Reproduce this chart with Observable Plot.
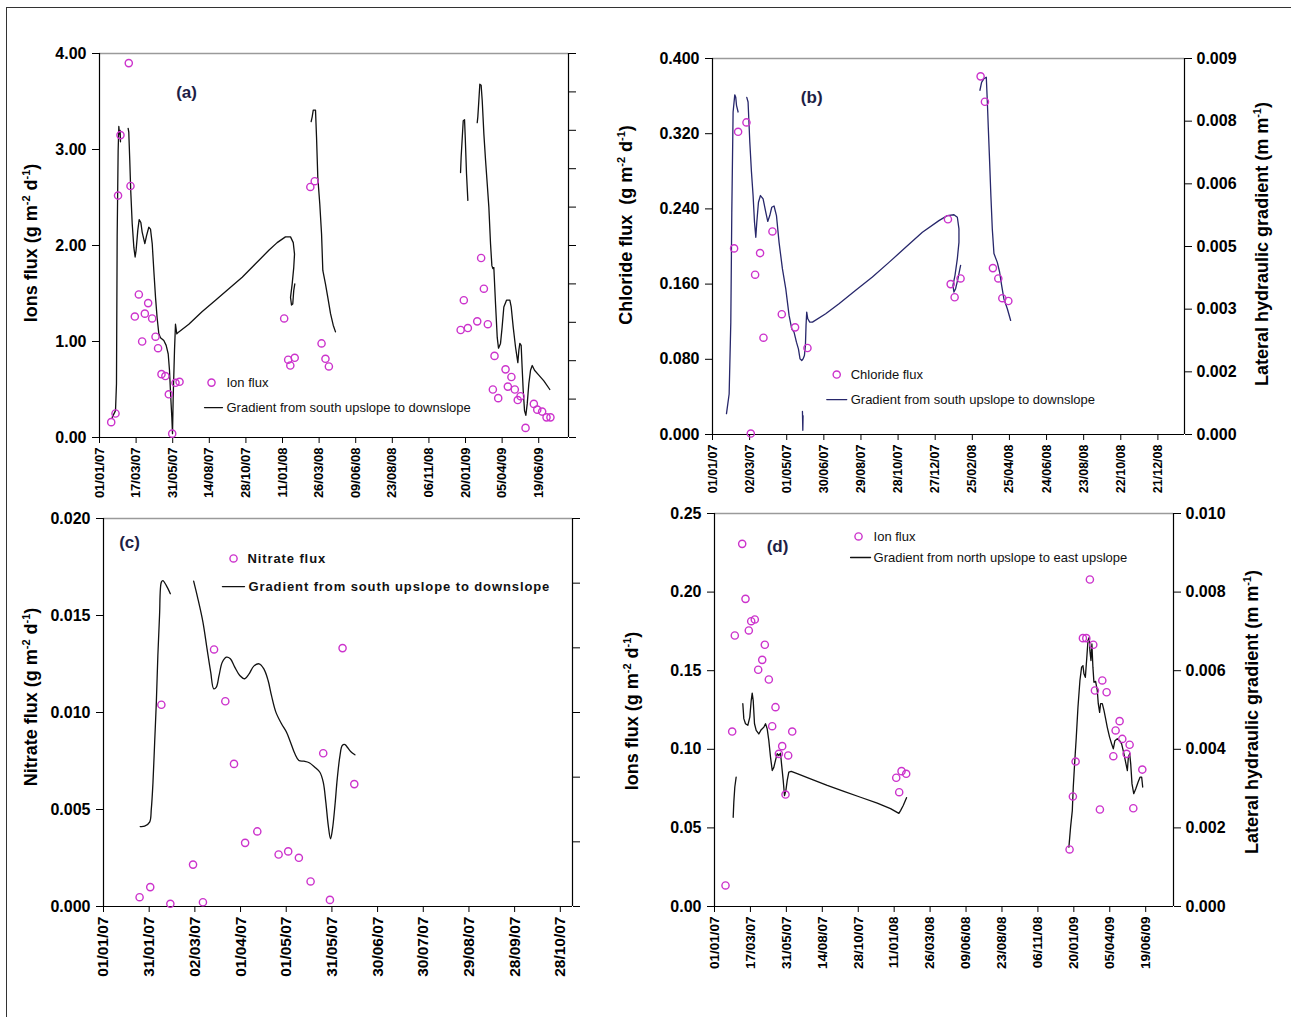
<!DOCTYPE html>
<html>
<head>
<meta charset="utf-8">
<script src="https://cdn.jsdelivr.net/npm/d3@7"></script>
<script src="https://cdn.jsdelivr.net/npm/@observablehq/plot@0.6"></script>
<style>
  html, body { margin: 0; padding: 0; background: #fff; overflow: hidden; }
  #fig { position: relative; width: 1291px; height: 1017px; background: #fff; font-family: "Liberation Sans", Arial, sans-serif; }
  #border { position: absolute; left: 6px; top: 7px; width: 1300px; height: 1020px; border-top: 1.5px solid #333; border-left: 1.5px solid #333; }
  .panel { position: absolute; }
  .ytitle { position: absolute; white-space: nowrap; font-weight: bold; font-size: 18px; color: #000;
            transform: translate(-50%, -50%) rotate(-90deg); line-height: 1; }
  .ytitle sup { font-size: 11px; vertical-align: 0.6em; line-height: 0; }
</style>
</head>
<body>
<div id="fig"><div id="border"></div></div>
<script>
// ---------------- DATA (x = days since 01/01/07) ----------------
// Panel (a): ion flux (g m-2 d-1) and gradient south upslope -> downslope (drawn on the unlabelled right axis)
const fluxA = [[24,0.16],[32.8,0.25],[38,2.52],[43,3.15],[60,3.90],[63.5,2.62],[72.4,1.26],[80.6,1.49],[87.4,1.00],[92.9,1.29],[99.7,1.40],[107.9,1.24],[114.8,1.05],[120,0.93],[127,0.66],[135,0.64],[142,0.45],[149,0.04],[155.7,0.57],[164,0.58],[378.4,1.24],[386.6,0.81],[391,0.75],[400,0.83],[432,2.61],[441,2.67],[455,0.98],[463,0.82],[470,0.74],[740,1.12],[746.5,1.43],[754.8,1.14],[774,1.21],[782,1.87],[787.6,1.55],[795.7,1.18],[806,0.50],[809.4,0.85],[817,0.41],[832,0.71],[836.7,0.53],[844,0.63],[851,0.50],[857,0.39],[862.7,0.43],[873,0.10],[890,0.35],[897,0.29],[907,0.27],[916,0.21],[924,0.21]];
const gradA = [
  [[26,0.21],[32.8,0.28],[34.8,0.56],[36.2,2.09],[38.2,2.99],[39.6,3.24],[41,3.16],[42.3,3.20],[43,3.08]],
  [[58.7,3.22],[60,3.18],[62,2.89],[64,2.57],[67,2.23],[70.4,1.98],[73,1.88],[75,1.95],[78.5,2.16],[81.3,2.27],[84.7,2.24],[87.4,2.14],[92.9,2.02],[96.3,2.10],[101,2.19],[104.5,2.17],[108,2.02],[111.3,1.74],[114.8,1.46],[118,1.25],[121.6,1.08],[125,1.04],[131.8,1.01],[136.6,0.96],[140.8,0.87],[143.4,0.70],[146,0.42],[148.2,0.21],[149.6,0.04],[151,0.42],[153.7,0.91],[155.7,1.18],[158.4,1.08],[162.5,1.10],[183,1.18],[210,1.31],[237.7,1.43],[265,1.55],[292.4,1.67],[319.7,1.81],[347,1.95],[364,2.03],[381,2.09],[391.4,2.09],[397,2.03],[399.6,1.91],[398,1.77],[394.8,1.60],[391.4,1.46],[393.4,1.38],[396,1.39],[398,1.53],[400.2,1.60]],
  [[433.7,3.29],[435.8,3.34],[438,3.41],[442.6,3.41],[444.7,3.13],[447.3,2.71],[451.4,2.43],[455,2.12],[457.6,1.74],[463,1.60],[467.8,1.46],[473.4,1.29],[478.9,1.17],[483.6,1.10]],
  [[739.8,2.76],[741,2.92],[745.3,3.30],[748,3.31],[749.4,3.13],[752,2.75],[754.8,2.47]],
  [[774,3.28],[775.2,3.34],[777.3,3.51],[779.3,3.68],[782,3.67],[784.2,3.51],[787.6,3.16],[791,2.89],[794.5,2.64],[797.8,2.40],[801.2,2.02],[804,1.79],[806,1.76],[808,1.77],[811.5,1.39],[815,1.04],[817.6,0.93],[821.7,0.98],[825,1.15],[828.5,1.36],[834,1.43],[840.8,1.43],[843.6,1.36],[847.7,1.15],[852.5,0.94],[857.2,0.78],[859.3,0.91],[861.3,0.98],[864,0.96],[866,0.73],[868.2,0.49],[870.9,0.28],[873.6,0.23],[876.4,0.35],[879.7,0.56],[883.2,0.70],[886.7,0.75],[891.4,0.70],[900.2,0.65],[910.5,0.59],[922.7,0.50]]
];

// Panel (b): chloride flux (g m-2 d-1) and lateral hydraulic gradient (m m-1)
const fluxB = [[34.9,0.198],[41.4,0.322],[54.9,0.332],[61.9,0.001],[68.9,0.170],[76.9,0.193],[82.4,0.103],[96.9,0.216],[112,0.128],[133.5,0.114],[153.5,0.092],[380.6,0.229],[385,0.160],[391.4,0.146],[401,0.166],[433.4,0.381],[440.4,0.354],[453.3,0.177],[462,0.166],[468.5,0.145],[478.2,0.142]];
const gradB = [
  [[22.6,0.00050],[26.9,0.00097],[29.6,0.00269],[31.2,0.00532],[33.3,0.00772],[36,0.00813],[37.6,0.00807],[38.8,0.00788],[41.4,0.00772]],
  [[55.4,0.00807],[57.5,0.00796],[60.3,0.00700],[63,0.00628],[65.6,0.00572],[67.9,0.00508],[70,0.00472],[71.6,0.00508],[74.3,0.00556],[77.5,0.00572],[81.8,0.00564],[86.1,0.00532],[89.3,0.00510],[92.6,0.00524],[95.8,0.00544],[99.5,0.00547],[103.4,0.00524],[107.6,0.00460],[113,0.00397],[118.4,0.00349],[123.8,0.00285],[128.1,0.00253],[131.8,0.00245],[135.7,0.00221],[138.9,0.00205],[141.5,0.00181],[144.3,0.00177],[146.4,0.00181],[148.6,0.00189],[150.2,0.00213],[151.2,0.00261],[152.3,0.00293],[154,0.00277],[157.2,0.00269],[161.6,0.00269],[183,0.00289],[204.5,0.00313],[231.5,0.00345],[258.5,0.00377],[285.3,0.00412],[312.3,0.00448],[339.3,0.00484],[366,0.00512],[379.6,0.00524],[390.3,0.00526],[395.8,0.00520],[398.4,0.00492],[398.4,0.00460],[395.8,0.00421],[392,0.00381],[388.7,0.00357],[390.3,0.00341],[393,0.00349],[396.8,0.00373],[400,0.00397],[401.1,0.00405]],
  [[145.4,0.00055],[146,0.00010],[146.4,0.00045]],
  [[432.3,0.00824],[435,0.00843],[438.8,0.00852],[442.6,0.00855],[444.3,0.00796],[445.9,0.00732],[448,0.00652],[450,0.00572],[452.3,0.00492],[455,0.00433],[460.4,0.00412],[464.1,0.00389],[467.4,0.00357],[471,0.00325],[476.6,0.00301],[482,0.00273]]
];

// Panel (c): nitrate flux (g m-2 d-1) and gradient (unlabelled right axis)
const fluxC = [[23.7,0.00048],[30.7,0.00100],[38,0.01040],[43.9,0.00014],[58.8,0.00216],[65.3,0.00022],[72.6,0.01325],[80,0.01058],[85.7,0.00735],[93,0.00328],[101,0.00387],[115,0.00268],[121.3,0.00284],[128.3,0.00251],[136,0.00129],[144.3,0.00790],[148.7,0.00034],[157,0.01332],[164.7,0.00631]];
const gradC = [
  [[24.1,0.00412],[27,0.00414],[30.3,0.00435],[31.4,0.00503],[32.5,0.00641],[33.6,0.00847],[34.7,0.01053],[35.7,0.01294],[36.8,0.01500],[38,0.01672],[39,0.01680],[41.2,0.01655],[43.9,0.01612]],
  [[59.2,0.01677],[62,0.01586],[65.3,0.01466],[68,0.01328],[70.4,0.01208],[72.4,0.01122],[74.1,0.01131],[75.9,0.01191],[78,0.01259],[80.7,0.01285],[83.3,0.01277],[86.2,0.01234],[89.5,0.01191],[92.8,0.01174],[95.6,0.01199],[98.7,0.01239],[102.2,0.01251],[105.3,0.01225],[108.1,0.01165],[110.3,0.01088],[113.2,0.01002],[116.9,0.00942],[120.2,0.00898],[122.8,0.00847],[125.7,0.00787],[128.3,0.00753],[131.6,0.00749],[135.1,0.00741],[138.8,0.00718],[142.1,0.00692],[144.3,0.00641],[146,0.00538],[147.6,0.00418],[149.1,0.00349],[150.4,0.00401],[152,0.00521],[153.5,0.00658],[155.3,0.00778],[156.8,0.00830],[158.6,0.00835],[160.1,0.00821],[162.3,0.00799],[165.1,0.00782]]
];

// Panel (d): ion flux (g m-2 d-1) and lateral hydraulic gradient north -> east upslope (m m-1)
const fluxD = [[23,0.0134],[36.9,0.1113],[42.4,0.1724],[57.8,0.2307],[64.7,0.1957],[71.6,0.1756],[76.6,0.1815],[84.1,0.1826],[91.2,0.1506],[99.6,0.1569],[105,0.1665],[113.4,0.1444],[120.4,0.1147],[127.3,0.1268],[134.3,0.0971],[141.3,0.1020],[148.2,0.0712],[153.8,0.0961],[162.2,0.1113],[379.3,0.0819],[385.5,0.0727],[390.4,0.0861],[400.1,0.0844],[741.1,0.0363],[748,0.0700],[753.7,0.0922],[768.9,0.1707],[776,0.1707],[783.5,0.2080],[790.6,0.1665],[794,0.1374],[804.4,0.0617],[809.4,0.1438],[818.4,0.1363],[832.4,0.0956],[837.2,0.1120],[845.5,0.1179],[851.1,0.1066],[860.1,0.0971],[866.4,0.1029],[874.1,0.0625],[892.9,0.0871]];
const gradD = [
  [[39,0.00227],[40.3,0.00265],[42.4,0.00304],[45.2,0.00329]],
  [[59.1,0.00516],[61.2,0.00478],[64.7,0.00465],[69.5,0.00461],[73.7,0.00482],[76.6,0.00524],[78.7,0.00543],[80.8,0.00524],[83.5,0.00465],[87,0.00448],[92.5,0.00439],[97.5,0.00450],[102.9,0.00456],[106.5,0.00465],[110,0.00452],[113.4,0.00422],[116.9,0.00380],[120.5,0.00346],[123.8,0.00354],[127.3,0.00372],[130.9,0.00389],[134.2,0.00384],[137.8,0.00390],[139.9,0.00363],[143.4,0.00321],[146.1,0.00282],[148.9,0.00295],[151.8,0.00321],[155.1,0.00342],[160.1,0.00344],[172.6,0.00338],[200.4,0.00325],[235.3,0.00308],[270,0.00293],[304.8,0.00278],[339.7,0.00263],[367.4,0.00249],[384.8,0.00237],[388.3,0.00244],[393.9,0.00257],[400.8,0.00277]],
  [[739.7,0.00151],[743.2,0.00202],[746.8,0.00244],[748.8,0.00304],[751.6,0.00363],[755.1,0.00431],[758.6,0.00507],[762.7,0.00575],[766.2,0.00609],[769,0.00613],[771.1,0.00592],[774,0.00583],[776.6,0.00626],[779.5,0.00677],[782.3,0.00685],[783.5,0.00651],[785.7,0.00626],[787.7,0.00668],[789.8,0.00609],[791.9,0.00571],[795.4,0.00573],[798.9,0.00550],[801,0.00516],[803.8,0.00494],[805.8,0.00516],[809.4,0.00516],[812.9,0.00499],[816.3,0.00478],[819.8,0.00456],[824.6,0.00431],[828.8,0.00414],[832.4,0.00401],[835.7,0.00422],[840.7,0.00427],[845.5,0.00422],[849.7,0.00414],[854.5,0.00389],[858.8,0.00363],[861.7,0.00346],[863.8,0.00380],[866.5,0.00389],[868.7,0.00363],[871.4,0.00312],[875,0.00287],[879.1,0.00299],[884,0.00316],[888.1,0.00329],[891.6,0.00329],[893.7,0.00304]]
];

// Tick labels
const dateTicks75 = ["01/01/07","17/03/07","31/05/07","14/08/07","28/10/07","11/01/08","26/03/08","09/06/08","23/08/08","06/11/08","20/01/09","05/04/09","19/06/09"];
const dateTicks60 = ["01/01/07","02/03/07","01/05/07","30/06/07","29/08/07","28/10/07","27/12/07","25/02/08","25/04/08","24/06/08","23/08/08","22/10/08","21/12/08"];
const dateTicks30 = ["01/01/07","31/01/07","02/03/07","01/04/07","01/05/07","31/05/07","30/06/07","30/07/07","29/08/07","28/09/07","28/10/07"];
const leftTicksA = [0, 1, 2, 3, 4];
const leftTicksB = [0, 0.08, 0.16, 0.24, 0.32, 0.40];
const leftTicksC = [0, 0.005, 0.010, 0.015, 0.020];
const leftTicksD = [0, 0.05, 0.10, 0.15, 0.20, 0.25];
const rightTicksA = [0, 0.4, 0.8, 1.2, 1.6, 2.0, 2.4, 2.8, 3.2, 3.6, 4.0];
const rightTicksC = [0, 0.02/6, 0.04/6, 0.01, 0.08/6, 0.10/6, 0.02];
const rightTicksB = [0, 0.0015, 0.003, 0.0045, 0.006, 0.0075, 0.009];
const rightLabelsB = ["0.000","0.002","0.003","0.005","0.006","0.008","0.009"];
const rightTicksD = [0, 0.002, 0.004, 0.006, 0.008, 0.010];
const rightLabelsD = ["0.000","0.002","0.004","0.006","0.008","0.010"];

const legendTextA = ["Ion flux", "Gradient from south upslope to downslope"];
const legendTextB = ["Chloride flux", "Gradient from south upslope to downslope"];
const legendTextC = ["Nitrate flux", "Gradient from south upslope to downslope"];
const legendTextD = ["Ion flux", "Gradient from north upslope to east upslope"];

// ---------------- HELPERS ----------------
const BASE = Date.UTC(2007, 0, 1);
const dayDate = d => new Date(BASE + d * 86400000);
const parseTick = d3.utcParse("%d/%m/%y");
const fmtTick = d3.utcFormat("%d/%m/%y");
const MAGENTA = "#cc33cc";
const FONT = "'Liberation Sans', Arial, Helvetica, sans-serif";

function panel(o) {
  const k = o.yMax / o.rightMax; // right-axis units -> left-axis units
  const rightMap = new Map(o.rightTicks.map((v, i) => [v * k, o.rightLabels ? o.rightLabels[i] : ""]));
  const marks = [
    Plot.ruleY([o.yMax], {stroke: "#9a9a9a", strokeWidth: 1.3}),
    Plot.ruleY([0], {stroke: "#000", strokeWidth: 1.2}),
    Plot.ruleX([dayDate(0)], {stroke: "#000", strokeWidth: 1.2}),
    Plot.ruleX([dayDate(o.xEnd)], {stroke: "#000", strokeWidth: 1.2}),
    Plot.axisY({anchor: "left", ticks: o.leftTicks, tickFormat: d3.format(o.leftFmt), tickSize: 7, tickPadding: 6,
      fontSize: 16, fontWeight: "bold", label: null}),
    Plot.axisY({anchor: "right", ticks: o.rightTicks.map(v => v * k), tickFormat: v => rightMap.get(v) ?? "",
      tickSize: 7, tickPadding: 5, fontSize: 16, fontWeight: "bold", textAnchor: "start", label: null}),
    Plot.axisX({ticks: o.dateTicks.map(parseTick), tickFormat: fmtTick, tickRotate: -90, tickSize: 6, tickPadding: 4,
      fontSize: o.dateSize, fontWeight: o.dateWeight, label: null})
  ];
  for (const seg of o.grad) {
    marks.push(Plot.line(seg, {x: d => dayDate(d[0]), y: d => d[1] * k, stroke: o.lineColor, strokeWidth: 1.3, curve: o.curve || "linear"}));
  }
  marks.push(Plot.dot(o.flux, {x: d => dayDate(d[0]), y: d => d[1], r: 3.6, stroke: MAGENTA, strokeWidth: 1.4, fill: "none"}));
  // legend
  const L = o.legend;
  marks.push(Plot.dot([L.dot], {x: d => dayDate(d[0]), y: d => d[1] * o.yMax, r: 3.6, stroke: MAGENTA, strokeWidth: 1.4, fill: "none"}));
  marks.push(Plot.line(L.line, {x: d => dayDate(d[0]), y: d => d[1] * o.yMax, stroke: o.lineColor, strokeWidth: 1.3}));
  marks.push(Plot.text([[L.text1, o.legendText[0]], [L.text2, o.legendText[1]]], {
    x: d => dayDate(d[0][0]), y: d => d[0][1] * o.yMax, text: d => d[1], textAnchor: "start",
    fontSize: o.legendSize, fontWeight: o.legendWeight, fill: "#111", style: o.legendSpacing}));
  marks.push(Plot.text([o.tag], {x: d => dayDate(L.tag[0]), y: d => L.tag[1] * o.yMax, text: d => d,
    fontSize: 17, fontWeight: "bold", fill: "#1e1e46"}));

  const svg = Plot.plot({
    width: o.width, height: o.height,
    marginLeft: o.mL, marginRight: o.mR, marginTop: o.mT, marginBottom: o.mB,
    x: {type: "utc", domain: [dayDate(0), dayDate(o.xEnd)]},
    y: {domain: [0, o.yMax]},
    style: {fontFamily: FONT, background: "transparent", color: "#000", overflow: "visible"},
    marks
  });
  if (o.legendLetterSpacing) {
    svg.querySelectorAll("text").forEach(t => {
      if (o.legendText.includes(t.textContent)) t.setAttribute("letter-spacing", o.legendLetterSpacing);
    });
  }
  const wrap = document.createElement("div");
  wrap.className = "panel";
  wrap.style.left = o.left + "px";
  wrap.style.top = o.top + "px";
  wrap.appendChild(svg);
  document.getElementById("fig").appendChild(wrap);
}

function ytitle(html, cx, cy) {
  const d = document.createElement("div");
  d.className = "ytitle";
  d.innerHTML = html;
  d.style.left = cx + "px";
  d.style.top = cy + "px";
  document.getElementById("fig").appendChild(d);
}

// legend anchors (days, fraction of the left-axis maximum)
const legendPosA = {dot: [229.5, 0.143], text1: [260.2, 0.143], line: [[215.2, 0.078], [252, 0.078]], text2: [260.2, 0.078], tag: [178.3, 0.8985]};
const legendPosB = {dot: [200.8, 0.1595], text1: [223.4, 0.1595], line: [[184.7, 0.093], [217, 0.093]], text2: [223.4, 0.093], tag: [160.4, 0.896]};
const legendPosC = {dot: [85.4, 0.897], text1: [94.5, 0.897], line: [[78.1, 0.8245], [92.6, 0.8245]], text2: [95.2, 0.8245], tag: [17.1, 0.938]};
const legendPosD = {dot: [300.6, 0.9416], text1: [332, 0.9416], line: [[284, 0.888], [325.7, 0.888]], text2: [332, 0.888], tag: [131.5, 0.916]};

panel({left: 0, top: 0, width: 640, height: 505, mL: 99, mR: 72, mT: 53, mB: 68,
  xEnd: 961, yMax: 4, rightMax: 4, leftTicks: leftTicksA, leftFmt: ".2f", rightTicks: rightTicksA, rightLabels: null,
  dateTicks: dateTicks75, dateSize: 13, dateWeight: "bold", grad: gradA, flux: fluxA, lineColor: "#111",
  legend: legendPosA, legendText: legendTextA, legendSize: 13, legendWeight: "normal", tag: "(a)"});

panel({left: 640, top: 0, width: 651, height: 505, mL: 72, mR: 107, mT: 58, mB: 71,
  xEnd: 763, yMax: 0.4, rightMax: 0.009, leftTicks: leftTicksB, leftFmt: ".3f", rightTicks: rightTicksB, rightLabels: rightLabelsB,
  dateTicks: dateTicks60, dateSize: 12.5, dateWeight: "bold", grad: gradB, flux: fluxB, lineColor: "#27276b",
  legend: legendPosB, legendText: legendTextB, legendSize: 13, legendWeight: "normal", tag: "(b)"});

panel({left: 0, top: 505, width: 640, height: 512, mL: 103, mR: 68, mT: 13, mB: 111,
  xEnd: 308, yMax: 0.02, rightMax: 0.02, leftTicks: leftTicksC, leftFmt: ".3f", rightTicks: rightTicksC, rightLabels: null,
  dateTicks: dateTicks30, dateSize: 15.5, dateWeight: "bold", grad: gradC, flux: fluxC, lineColor: "#111", curve: "catmull-rom",
  legend: legendPosC, legendText: legendTextC, legendSize: 13, legendWeight: "bold", legendLetterSpacing: "0.9", tag: "(c)"});

panel({left: 640, top: 505, width: 651, height: 512, mL: 74, mR: 118, mT: 8, mB: 111,
  xEnd: 958, yMax: 0.25, rightMax: 0.010, leftTicks: leftTicksD, leftFmt: ".2f", rightTicks: rightTicksD, rightLabels: rightLabelsD,
  dateTicks: dateTicks75, dateSize: 13.5, dateWeight: "bold", grad: gradD, flux: fluxD, lineColor: "#111",
  legend: legendPosD, legendText: legendTextD, legendSize: 13, legendWeight: "normal", tag: "(d)"});

ytitle("Ions flux (g m<sup>-2</sup> d<sup>-1</sup>)", 31, 243);
ytitle("Chloride flux&nbsp;&nbsp;(g m<sup>-2</sup> d<sup>-1</sup>)", 626, 225);
ytitle("Lateral hydraulic gradient (m m<sup>-1</sup>)", 1262, 244);
ytitle("Nitrate flux (g m<sup>-2</sup> d<sup>-1</sup>)", 31, 697);
ytitle("Ions flux (g m<sup>-2</sup> d<sup>-1</sup>)", 632, 711);
ytitle("Lateral hydraulic gradient (m m<sup>-1</sup>)", 1252, 712);
</script>
</body>
</html>
